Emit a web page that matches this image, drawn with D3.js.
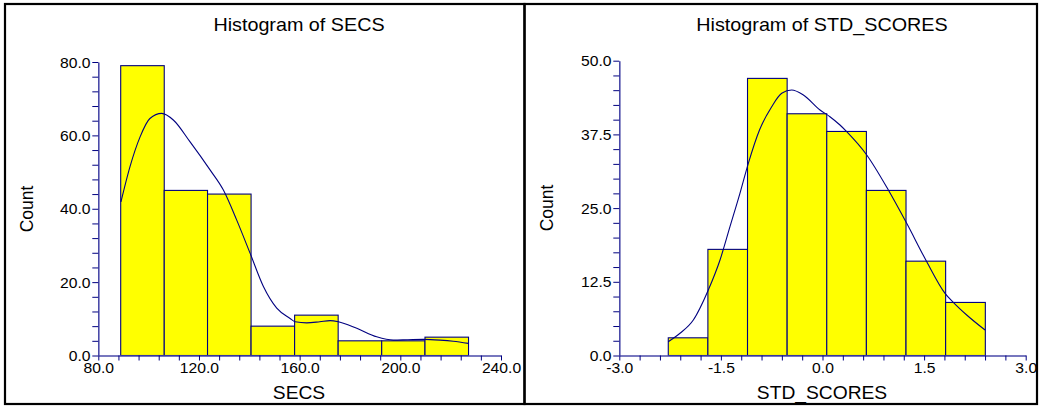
<!DOCTYPE html>
<html>
<head>
<meta charset="utf-8">
<script src="https://cdn.jsdelivr.net/npm/d3@7"></script>
<style>
  html, body { margin: 0; padding: 0; background: #fff; }
  svg { display: block; }
  text { font-family: "Liberation Sans", Arial, sans-serif; fill: #000; }
</style>
</head>
<body>
<div id="chart"></div>
<script>
// ---------------- DATA ----------------
// Histogram of SECS
const secsBinEdges = [88.9, 106.2, 123.4, 140.7, 158.0, 175.3, 192.6, 209.8, 227.1];
const secsCounts   = [79, 45, 44, 8, 11, 4, 4, 5];
const secsCurveX   = [89.0, 92.6, 96.6, 100.5, 105.2, 109.8, 116.4, 124.4, 129.7, 135.0, 140.3, 145.6, 150.9, 156.2, 158.2, 162.8, 168.0, 172.1, 175.4, 182.7, 190.6, 197.2, 203.0, 209.1, 215.8, 221.0, 227.0];
const secsCurveY   = [41.9, 51.5, 59.6, 64.6, 66.0, 64.2, 58.3, 50.6, 45.1, 36.9, 27.9, 18.8, 12.9, 10.1, 9.2, 8.9, 9.2, 9.5, 9.2, 7.4, 5.1, 4.2, 4.3, 4.4, 4.2, 3.9, 3.3];
const secsXTicks   = [80, 120, 160, 200, 240];
const secsYTicks   = [0, 20, 40, 60, 80];

// Histogram of STD_SCORES
const stdBinEdges = [-2.277, -1.692, -1.107, -0.522, 0.063, 0.648, 1.233, 1.818, 2.404];
const stdCounts   = [3, 18, 47, 41, 38, 28, 16, 9];
const stdCurveX   = [-2.277, -2.104, -1.907, -1.686, -1.513, -1.366, -1.219, -1.095, -0.930, -0.750, -0.602, -0.455, -0.283, -0.037, 0.110, 0.258, 0.357, 0.653, 0.972, 1.243, 1.539, 1.809, 1.931, 2.129, 2.400];
const stdCurveY   = [2.34, 3.77, 6.02, 11.11, 16.20, 21.85, 27.51, 32.60, 38.25, 42.20, 44.47, 45.03, 44.18, 41.64, 40.50, 39.09, 37.96, 34.01, 28.07, 22.42, 15.91, 10.55, 9.02, 6.87, 4.32];
const stdXTicks   = [-3.0, -1.5, 0.0, 1.5, 3.0];
const stdYTicks   = [0, 12.5, 25, 37.5, 50];

const titles  = ["Histogram of SECS", "Histogram of STD_SCORES"];
const xLabels = ["SECS", "STD_SCORES"];
const yLabel  = "Count";

// ---------------- DRAW ----------------
const W = 1039, H = 414;
const svg = d3.select("#chart").append("svg").attr("width", W).attr("height", H);

const NAVY = "#000080";
const AXIS = "#4a4aa8";

const panels = [
  {
    frame: [5, 4, 524.5, 404],
    xr: [98.3, 501], yr: [355.5, 62],
    xdom: [80, 240], ydom: [0, 80], xminor: 8, yminor: 4,
    edges: secsBinEdges, counts: secsCounts, cx: secsCurveX, cy: secsCurveY,
    xticks: secsXTicks, yticks: secsYTicks,
    title: titles[0], xlab: xLabels[0], titleX: 299, xlabX: 299, countX: 33, countY: 209
  },
  {
    frame: [524.5, 4, 1037, 404],
    xr: [619.3, 1025.7], yr: [355.5, 60.7],
    xdom: [-3, 3], ydom: [0, 50], xminor: 0.3, yminor: 2.5,
    edges: stdBinEdges, counts: stdCounts, cx: stdCurveX, cy: stdCurveY,
    xticks: stdXTicks, yticks: stdYTicks,
    title: titles[1], xlab: xLabels[1], titleX: 822, xlabX: 822, countX: 553, countY: 208
  }
];

function stretchedText(g, x, y, str, size, sx, anchor, rotate) {
  return g.append("text")
    .attr("transform", `translate(${x},${y})` + (rotate ? ` rotate(${rotate})` : "") + ` scale(${sx},1)`)
    .attr("text-anchor", anchor || "middle")
    .style("font-size", size + "px")
    .text(str);
}

const fmt1 = v => d3.format(".1f")(v).replace("\u2212", "-");

panels.forEach(p => {
  const g = svg.append("g");
  const [fx0, fy0, fx1, fy1] = p.frame;

  const xs = d3.scaleLinear().domain(p.xdom).range(p.xr);
  const ys = d3.scaleLinear().domain(p.ydom).range(p.yr);

  // bars
  const bins = p.counts.map((c, i) => ({ x0: p.edges[i], x1: p.edges[i + 1], c }));
  g.selectAll("rect.bar").data(bins).enter().append("rect")
    .attr("class", "bar")
    .attr("x", d => xs(d.x0))
    .attr("width", d => xs(d.x1) - xs(d.x0))
    .attr("y", d => ys(d.c))
    .attr("height", d => ys(0) - ys(d.c))
    .attr("fill", "#ffff00")
    .attr("stroke", NAVY)
    .attr("stroke-width", 1.1);

  // density curve
  const pts = p.cx.map((v, i) => [v, p.cy[i]]);
  g.append("path")
    .datum(pts)
    .attr("d", d3.line().x(d => xs(d[0])).y(d => ys(d[1])).curve(d3.curveMonotoneX))
    .attr("fill", "none")
    .attr("stroke", NAVY)
    .attr("stroke-width", 1.1);

  // axes (major + minor ticks)
  const eps = 1e-6;
  const isMajor = (v, majors) => majors.some(m => Math.abs(m - v) < eps);
  const xAll = d3.range(p.xdom[0], p.xdom[1] + p.xminor / 2, p.xminor);
  const yAll = d3.range(p.ydom[0], p.ydom[1] + p.yminor / 2, p.yminor);

  const xAxis = d3.axisBottom(xs).tickValues(xAll).tickSize(5).tickSizeOuter(0)
    .tickFormat(v => isMajor(v, p.xticks) ? fmt1(v) : "");
  const yAxis = d3.axisLeft(ys).tickValues(yAll).tickSize(6).tickSizeOuter(0)
    .tickFormat(v => isMajor(v, p.yticks) ? fmt1(v) : "");

  const gx = g.append("g").attr("transform", `translate(0,${p.yr[0]})`).call(xAxis);
  const gy = g.append("g").attr("transform", `translate(${p.xr[0]},0)`).call(yAxis);

  [gx, gy].forEach(ax => {
    ax.select(".domain").attr("stroke", AXIS).attr("stroke-width", 1.6);
    ax.selectAll(".tick line").attr("stroke", NAVY).attr("stroke-width", 1);
    ax.selectAll(".tick text").style("font-family", "Liberation Sans, Arial, sans-serif")
      .style("font-size", "14px").attr("fill", "#000");
  });
  gx.selectAll(".tick text").attr("y", 8).attr("dy", "0.71em")
    .attr("transform", "scale(1.12,1)");
  gy.selectAll(".tick text").attr("x", -6).attr("dy", "0.36em")
    .attr("transform", "translate(-1,0) scale(1.12,1)");

  // titles
  stretchedText(g, p.titleX, 31, p.title, 19, 1.04, "middle");
  stretchedText(g, p.xlabX, 399, p.xlab, 17.5, 1.1, "middle");
  stretchedText(g, p.countX, p.countY, yLabel, 17.5, 1.0, "middle", -90);

  // frame
  g.append("rect")
    .attr("x", fx0).attr("y", fy0)
    .attr("width", fx1 - fx0).attr("height", fy1 - fy0)
    .attr("fill", "none").attr("stroke", "#000").attr("stroke-width", 2.2);
});
</script>
</body>
</html>
